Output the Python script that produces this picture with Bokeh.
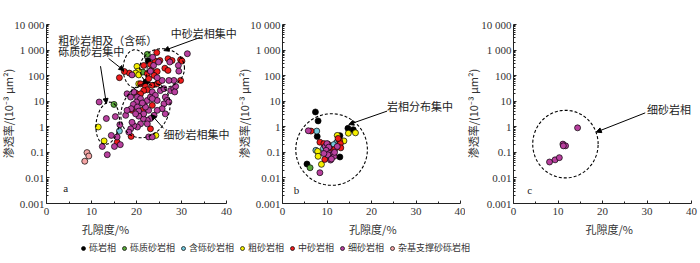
import numpy as np
from bokeh.plotting import figure
from bokeh.layouts import row, column
from bokeh.models import (FixedTicker, Range1d, Label, Arrow, NormalHead,
                          Legend, LegendItem)
from bokeh.embed import file_html
from bokeh.resources import INLINE

# ---------------- data ----------------
FACIES = ["砾岩相", "砾质砂岩相", "含砾砂岩相", "粗砂岩相", "中砂岩相", "细砂岩相", "杂基支撑砂砾岩相"]
COLORS = ["#000000", "#5aa83a", "#74c8dc", "#f5ef00", "#ee1c1c", "#b8409e", "#f4a4a4"]

X_TICKS = [0, 10, 20, 30, 40]
Y_TICKS = [0.001, 0.01, 0.1, 1, 10, 100, 1000, 10000]
Y_TICK_LABELS = ["0.001", "0.01", "0.1", "1", "10", "100", "1 000", "10 000"]

# panel a
a_gravel_x = [22.6, 22.1]
a_gravel_y = [380, 56]
a_pebbly_x = [22.4, 21.4, 15.0]
a_pebbly_y = [680, 138, 7.5]
a_gravelly_x = [16.2]
a_gravelly_y = [0.68]
a_coarse_x = [20.1, 20.4, 19.8, 20.5, 20.5, 11.5, 12.8, 24.3]
a_coarse_y = [230, 150, 126, 107, 48, 0.98, 0.28, 0.46]
a_medium_x = [24.5, 24.1, 25.2, 23.1, 21.6, 27.0, 27.9, 26.3, 27.0, 29.8, 30.1, 29.8,
              23.3, 22.4, 18.4, 17.3, 16.2, 24.6, 23.9, 20.9, 22.0, 22.4, 23.5, 24.6,
              25.0, 21.6, 19.8, 20.9, 19.0, 21.3, 23.5, 23.1, 18.8, 15.7, 22.7]
a_medium_y = [800, 370, 390, 275, 250, 460, 390, 195, 160, 420, 370, 65,
              160, 120, 126, 145, 83, 145, 102, 48, 38, 28, 42, 48,
              56, 26, 21, 19.5, 4.4, 4.4, 6.9, 0.83, 0.42, 0.25, 76]
a_fine_x = [23.6, 31.3, 23.8, 27.4, 29.3, 29.4, 28.3, 27.2, 19.0, 25.7, 24.6, 23.1, 24.9,
            17.9, 18.7, 19.4, 20.2, 20.9, 20.0, 19.3, 18.8, 20.2, 20.5, 21.6, 22.4, 23.1,
            23.5, 24.2, 25.3, 26.1, 26.4, 26.8, 26.1, 25.7, 24.6, 23.9, 23.1, 22.4, 21.5,
            20.9, 20.2, 19.4, 18.7, 18.3, 19.0, 17.6, 17.9, 21.6, 22.7, 24.6, 27.6, 28.3,
            28.7, 28.5, 27.2, 22.4, 22.7, 23.5, 26.4, 20.5, 22.0, 19.8, 21.3, 23.5,
            11.7, 13.3, 15.3, 16.3, 14.4, 12.4, 15.1, 16.4, 13.5, 15.7]
a_fine_y = [525, 720, 250, 340, 250, 150, 65, 65, 107, 65, 83, 150, 340,
            19.5, 14.5, 23, 14.5, 12.6, 9.3, 7.5, 5.1, 5.9, 4.1, 7.9, 10.7, 14.5,
            23, 17, 26, 31, 14.5, 10.7, 7.9, 5.1, 4.4, 2.8, 2.1, 1.8, 2.1,
            1.3, 0.98, 1.1, 0.83, 0.62, 1.5, 2.8, 4.4, 3.2, 4.4, 10.7, 26, 31,
            38, 23, 9.3, 1.3, 0.40, 0.40, 3.2, 2.6, 5.9, 3.2, 8.5, 12.6,
            9.3, 2.1, 2.5, 1.2, 0.46, 0.17, 0.17, 0.20, 0.081, 0.40]
a_matrix_x = [9.0, 9.4, 8.5]
a_matrix_y = [0.098, 0.072, 0.045]

# panel b
b_gravel_x = [7.4, 8.0, 7.8, 5.5, 12.9, 12.9, 14.7, 15.9]
b_gravel_y = [3.8, 1.7, 0.42, 0.035, 0.45, 0.066, 0.87, 0.77]
b_pebbly_x = [6.2]
b_pebbly_y = [0.025]
b_gravelly_x = [7.7, 7.5, 9.7, 10.7, 12.2, 11.5, 9.2]
b_gravelly_y = [0.68, 0.12, 0.16, 0.17, 0.25, 0.20, 0.14]
b_coarse_x = [7.9, 8.0, 8.75, 12.3, 13.8, 14.8, 16.4]
b_coarse_y = [0.11, 0.07, 0.034, 0.46, 0.28, 0.56, 0.58]
b_medium_x = [6.4, 8.4, 9.3, 10.2, 11.0, 11.7, 9.5, 12.8, 13.0, 13.1, 12.5, 10.5]
b_medium_y = [0.68, 0.25, 0.22, 0.21, 0.13, 0.13, 0.053, 0.29, 0.22, 0.15, 0.35, 0.12]
b_fine_x = [5.8, 9.6, 10.0, 10.4, 9.8, 10.6, 11.2, 10.2, 10.8, 11.6, 11.0, 12.3, 9.3, 8.4, 11.7]
b_fine_y = [0.70, 0.17, 0.22, 0.16, 0.12, 0.09, 0.08, 0.08, 0.05, 0.07, 0.055, 0.17, 0.09, 0.016, 0.10]

# panel c
c_fine_x = [8.1, 9.35, 10.3, 11.1, 11.7, 11.2, 14.4]
c_fine_y = [0.042, 0.051, 0.062, 0.21, 0.18, 0.18, 0.91]

PANELS = {
    "a": [(a_gravel_x, a_gravel_y), (a_pebbly_x, a_pebbly_y), (a_gravelly_x, a_gravelly_y),
          (a_coarse_x, a_coarse_y), (a_medium_x, a_medium_y), (a_fine_x, a_fine_y),
          (a_matrix_x, a_matrix_y)],
    "b": [(b_gravel_x, b_gravel_y), (b_pebbly_x, b_pebbly_y), (b_gravelly_x, b_gravelly_y),
          (b_coarse_x, b_coarse_y), (b_medium_x, b_medium_y), (b_fine_x, b_fine_y),
          ([], [])],
    "c": [([], []), ([], []), ([], []), ([], []), ([], []), (c_fine_x, c_fine_y), ([], [])],
}

SERIF = "Liberation Serif"
CJK = "Noto Sans CJK SC"
FIG_H = 239
TOP_PAD = 24
FRAME_H = 179
DEC_PX = FRAME_H / 7.0
PX_X = {}


def make_panel(width, left, frame_w):
    ppx = frame_w / 40.0
    x0 = -left / ppx
    x1 = (width - left) / ppx
    y1 = 10 ** (4 + TOP_PAD / DEC_PX)
    y0 = 10 ** (-3 - (FIG_H - TOP_PAD - FRAME_H) / DEC_PX)
    p = figure(width=width, height=FIG_H, x_range=Range1d(x0, x1),
               y_range=Range1d(y0, y1), y_axis_type="log",
               output_backend="svg", toolbar_location=None,
               min_border=0, min_border_left=0, min_border_right=0,
               min_border_top=0, min_border_bottom=0)
    p.outline_line_color = None
    p.grid.visible = False
    p.background_fill_color = None
    p.border_fill_color = None
    p.xaxis.fixed_location = 0.001
    p.xaxis.bounds = (0, 40)
    p.yaxis.fixed_location = 0
    p.yaxis.bounds = (0.001, 10000)
    p.xaxis.ticker = FixedTicker(ticks=X_TICKS, minor_ticks=[5, 15, 25, 35])
    mins = []
    for e in range(-3, 4):
        for k in range(2, 10):
            mins.append(k * 10.0 ** e)
    p.yaxis.ticker = FixedTicker(ticks=Y_TICKS, minor_ticks=mins)
    p.yaxis.major_label_overrides = {t: s for t, s in zip(Y_TICKS, Y_TICK_LABELS)}
    for ax in (p.xaxis, p.yaxis):
        ax.major_tick_in = 3
        ax.major_tick_out = 0
        ax.minor_tick_in = 2
        ax.minor_tick_out = 0
        ax.axis_line_color = "#222222"
        ax.major_tick_line_color = "#222222"
        ax.minor_tick_line_color = "#222222"
        ax.major_label_text_font = SERIF
        ax.major_label_text_font_size = "11px"
        ax.major_label_text_color = "#333333"
    p.xaxis.major_label_standoff = 4
    p.yaxis.major_label_standoff = 2
    PX_X[id(p)] = ppx
    return p


def ellipse(p, cx, cy, a_px, b_px, rot_deg):
    t = np.linspace(0, 2 * np.pi, 160)
    ex, ey = a_px * np.cos(t), b_px * np.sin(t)
    r = np.deg2rad(rot_deg)
    sx = ex * np.cos(r) - ey * np.sin(r)
    sy = ex * np.sin(r) + ey * np.cos(r)
    xs = cx + sx / PX_X[id(p)]
    ys = 10 ** (np.log10(cy) + sy / DEC_PX)
    p.line(xs, ys, line_color="black", line_dash="3 2", line_width=1.1)


def arrow(p, x0, y0, x1, y1):
    p.add_layout(Arrow(end=NormalHead(size=5, fill_color="black", line_color="black"),
                       x_start=x0, y_start=y0, x_end=x1, y_end=y1,
                       line_color="black", line_width=1))


def note(p, x, y, text, font=CJK, size="11px", align="left", color="#222222"):
    p.add_layout(Label(x=x, y=y, text=text, text_font=font, text_font_size=size,
                       text_color=color, text_align=align, text_baseline="middle"))


def axis_titles(p, xlab_x, ylab_x):
    note(p, xlab_x, 1.05e-4, "孔隙度/%", font=CJK, size="11px", align="center", color="#333333")
    lab = Label(x=ylab_x, y=3.3, text="渗透率/(10⁻³ μm²)", text_font=CJK,
                text_font_size="11px", text_color="#333333", text_align="center",
                text_baseline="middle", angle=np.pi / 2)
    p.add_layout(lab)


pa = make_panel(237, 46, 180)
pb = make_panel(228, 45, 178)
pc = make_panel(235, 48, 178)

for key, p in (("a", pa), ("b", pb), ("c", pc)):
    for (xs, ys), col in zip(PANELS[key], COLORS):
        if len(xs):
            p.scatter(xs, ys, size=6, fill_color=col, line_color="black", line_width=0.7)

# panel a annotations
ellipse(pa, 13.6, 1.38, 11.5, 21.2, -8)
ellipse(pa, 19.7, 186, 12, 19, 0)
ellipse(pa, 25.7, 195, 22.3, 19.5, 0)
ellipse(pa, 22.0, 4.5, 29, 23, 60)
arrow(pa, 34.2, 3160, 26.1, 955)
arrow(pa, 13.8, 470, 17.2, 158)
arrow(pa, 12.0, 234, 13.3, 8.1)
arrow(pa, 26.0, 0.87, 23.3, 3.0)
note(pa, 27.6, 4470, "中砂岩相集中")
note(pa, 2.6, 2520, "粗砂岩相及（含砾）")
note(pa, 2.6, 960, "砾质砂岩集中")
note(pa, 26.0, 0.54, "细砂岩相集中")
note(pa, 3.7, 0.0042, "a", font=SERIF, size="11px")
axis_titles(pa, 13.1, -8.56)

# panel b annotations
ellipse(pb, 11.03, 0.129, 35.8, 35.8, 0)
arrow(pb, 23.5, 4.1, 14.9, 1.23)
note(pb, 23.5, 6.3, "岩相分布集中")
note(pb, 2.5, 0.0035, "b", font=SERIF, size="11px")
axis_titles(pb, 20.3, -8.55)

# panel c annotations
ellipse(pc, 11.67, 0.21, 32.7, 33.8, 0)
arrow(pc, 29.6, 3.5, 18.6, 0.62)
note(pc, 30.0, 5.1, "细砂岩相")
note(pc, 3.1, 0.0035, "c", font=SERIF, size="11px")
axis_titles(pc, 21.5, -9.2)

# legend strip
pl = figure(width=700, height=24, x_range=Range1d(0, 700), y_range=Range1d(0, 24),
            output_backend="svg", toolbar_location=None,
            min_border=0, min_border_left=0, min_border_right=0,
            min_border_top=0, min_border_bottom=0)
pl.axis.visible = False
pl.grid.visible = False
pl.outline_line_color = None
pl.border_fill_color = None
pl.background_fill_color = None
items = []
for name, col in zip(FACIES, COLORS):
    # legend-only renderer: its single point lies outside the visible range
    r = pl.scatter(x=[-1000], y=[-1000], size=6, fill_color=col, line_color="black",
                   line_width=0.7)
    items.append(LegendItem(label=name, renderers=[r]))
leg = Legend(items=items, orientation="horizontal", location=(78, 9),
             label_text_font=CJK, label_text_font_size="9px", label_text_color="#333333",
             glyph_width=10, glyph_height=10, label_standoff=1, spacing=3,
             padding=0, margin=0, border_line_alpha=0, background_fill_alpha=0,
             label_height=10)
pl.add_layout(leg)

layout = column(row(pa, pb, pc), pl)
open("out.html", "w").write(file_html(layout, INLINE))
